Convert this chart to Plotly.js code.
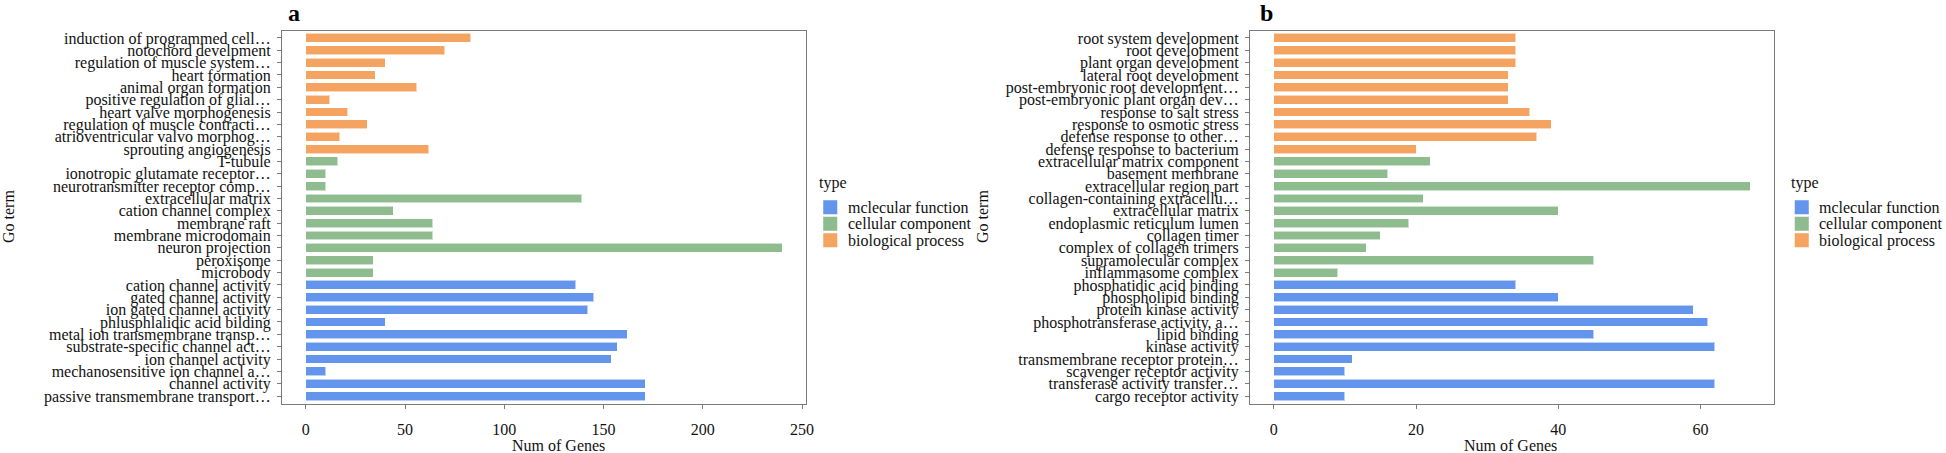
<!DOCTYPE html>
<html><head><meta charset="utf-8">
<script src="https://cdn.plot.ly/plotly-3.0.1.min.js"></script>
<style>html,body{margin:0;padding:0;background:#fff}#chart{width:1946px;height:453px}</style>
</head><body><div id="chart"></div>
<script>
const typeNames = ['mclecular function', 'cellular component', 'biological process'];
const typeColors = ['#6495ED', '#8FBC8F', '#F4A460'];

// ---- Panel a ----
const aBioTerms = ['induction of programmed cell\u2026', 'notochord develpment', 'regulation of muscle system\u2026',
  'heart formation', 'animal organ formation', 'positive regulation of glial\u2026', 'heart valve morphogenesis',
  'regulation of muscle contracti\u2026', 'atrioventricular valvo morphog\u2026', 'sprouting angiogenesis'];
const aBioGenes = [83, 70, 40, 35, 56, 12, 21, 31, 17, 62];
const aCellTerms = ['T-tubule', 'ionotropic glutamate receptor\u2026', 'neurotransmitter receptor comp\u2026',
  'extracellular matrix', 'cation channel complex', 'membrane raft', 'membrane microdomain',
  'neuron projection', 'peroxisome', 'microbody'];
const aCellGenes = [16, 10, 10, 139, 44, 64, 64, 240, 34, 34];
const aMolTerms = ['cation channel activity', 'gated channel activity', 'ion gated channel activity',
  'phlusphlalidic acid bilding', 'metal ion transmembrane transp\u2026', 'substrate-specific channel act\u2026',
  'ion channel activity', 'mechanosensitive ion channel a\u2026', 'channel activity', 'passive transmembrane transport\u2026'];
const aMolGenes = [136, 145, 142, 40, 162, 157, 154, 10, 171, 171];
const aTicks = [0, 50, 100, 150, 200, 250];

// ---- Panel b ----
const bBioTerms = ['root system development', 'root development', 'plant organ development', 'lateral root development',
  'post-embryonic root development\u2026', 'post-embryonic plant organ dev\u2026', 'response to salt stress',
  'response to osmotic stress', 'defense response to other\u2026', 'defense response to bacterium'];
const bBioGenes = [34, 34, 34, 33, 33, 33, 36, 39, 37, 20];
const bCellTerms = ['extracellular matrix component', 'basement membrane', 'extracellular region part',
  'collagen-containing extracellu\u2026', 'extracellular matrix', 'endoplasmic reticulum lumen', 'collagen timer',
  'complex of collagen trimers', 'supramolecular complex', 'inflammasome complex'];
const bCellGenes = [22, 16, 67, 21, 40, 19, 15, 13, 45, 9];
const bMolTerms = ['phosphatidic acid binding', 'phospholipid binding', 'protein kinase activity',
  'phosphotransferase activity, a\u2026', 'lipid binding', 'kinase activity', 'transmembrane receptor protein\u2026',
  'scavenger receptor activity', 'transferase activity transfer\u2026', 'cargo receptor activity'];
const bMolGenes = [34, 40, 59, 61, 45, 62, 11, 10, 62, 10];
const bTicks = [0, 20, 40, 60];

const FONT = '"Liberation Serif", "Times New Roman", Times, serif';
const TXT = '#111';
const W = 1946, H = 453;

function panelTraces(mol, molV, cell, cellV, bio, bioV, xa, ya) {
  const groups = [[mol, molV], [cell, cellV], [bio, bioV]];
  return groups.map((g, i) => ({
    type: 'bar', orientation: 'h', x: g[1], y: g[0], name: typeNames[i],
    xaxis: xa, yaxis: ya, showlegend: false,
    marker: {color: typeColors[i], line: {color: 'rgba(255,255,255,0.55)', width: 1}},
    width: 0.72, hoverinfo: 'x+y'
  }));
}

const traces = [].concat(
  panelTraces(aMolTerms, aMolGenes, aCellTerms, aCellGenes, aBioTerms, aBioGenes, 'x', 'y'),
  panelTraces(bMolTerms, bMolGenes, bCellTerms, bCellGenes, bBioTerms, bBioGenes, 'x2', 'y2')
);

const aOrder = aBioTerms.concat(aCellTerms, aMolTerms);
const bOrder = bBioTerms.concat(bCellTerms, bMolTerms);

const yDom = [1 - 403.5 / H, 1 - 30.5 / H];
function xAxis(dom, range, ticks, anchor) {
  return {domain: dom, range: range, tickmode: 'array', tickvals: ticks, ticktext: ticks.map(String), anchor: anchor,
    showgrid: false, zeroline: false, showline: true, mirror: true, linecolor: '#7a7a7a', linewidth: 1.2,
    ticks: 'outside', ticklen: 4, tickcolor: '#7a7a7a', tickwidth: 1, ticklabelstandoff: 7,
    tickfont: {family: FONT, size: 16, color: TXT}, automargin: false, fixedrange: true};
}
function yAxis(order, anchor) {
  return {domain: yDom, type: 'category', categoryorder: 'array', categoryarray: order,
    tickmode: 'array', tickvals: order, ticktext: order,
    range: [order.length - 0.4, -0.6], anchor: anchor,
    showgrid: false, zeroline: false, showline: true, mirror: true, linecolor: '#7a7a7a', linewidth: 1.2,
    ticks: 'outside', ticklen: 4, tickcolor: '#7a7a7a', tickwidth: 1, ticklabelstandoff: 3,
    tickfont: {family: FONT, size: 16, color: TXT}, automargin: false, fixedrange: true};
}

const ann = (text, xpx, ypx, opts) => Object.assign({text: text, x: xpx / W, y: 1 - ypx / H, xref: 'paper', yref: 'paper',
  showarrow: false, xanchor: 'center', yanchor: 'middle', font: {family: FONT, size: 16, color: TXT}}, opts || {});

// manual legends (one per panel)
const shapes = [];
const annotations = [
  ann('<b>a</b>', 294, 12.5, {font: {family: FONT, size: 24, color: '#000'}}),
  ann('<b>b</b>', 1266, 12.5, {font: {family: FONT, size: 24, color: '#000'}}),
  ann('Num of Genes', 558, 445),
  ann('Num of Genes', 1510, 445),
  ann('Go term', 8, 217, {textangle: -90}),
  ann('Go term', 982, 217, {textangle: -90})
];
function addLegend(titleX, swX, txtX) {
  annotations.push(ann('type', titleX, 183, {xanchor: 'left'}));
  typeNames.forEach((nm, i) => {
    const top = 200 + i * 16.5;
    shapes.push({type: 'rect', xref: 'paper', yref: 'paper', x0: swX / W, x1: (swX + 14.5) / W,
      y0: 1 - (top + 14.5) / H, y1: 1 - top / H, fillcolor: typeColors[i], line: {width: 0.8, color: 'rgba(255,255,255,0.6)'}});
    annotations.push(ann(nm, txtX, top + 7.5, {xanchor: 'left'}));
  });
}
addLegend(817, 823, 846);
addLegend(1789, 1794.5, 1817);

const layout = {
  width: W, height: H, margin: {l: 0, r: 0, t: 0, b: 0}, paper_bgcolor: '#fff', plot_bgcolor: '#fff',
  barmode: 'stack', showlegend: false, font: {family: FONT, color: TXT},
  xaxis: xAxis([282 / W, 806 / W], [-12, 252], aTicks, 'y'),
  yaxis: yAxis(aOrder, 'x'),
  xaxis2: xAxis([1250 / W, 1774 / W], [-3.35, 70.35], bTicks, 'y2'),
  yaxis2: yAxis(bOrder, 'x2'),
  shapes: shapes,
  annotations: annotations
};

Plotly.newPlot('chart', traces, layout, {displayModeBar: false});
</script>
</body></html>
